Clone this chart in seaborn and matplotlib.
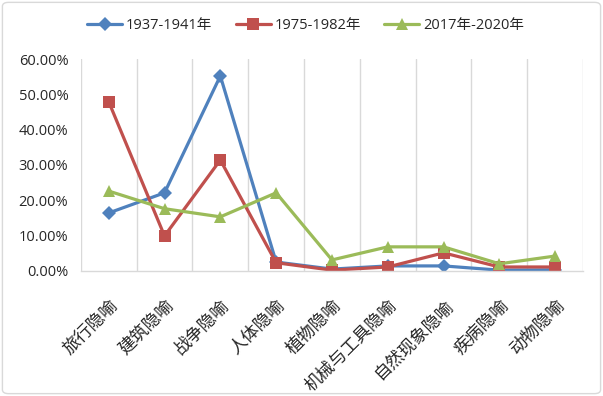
import numpy as np
import pandas as pd
import seaborn as sns
import matplotlib.pyplot as plt
from matplotlib.patches import FancyBboxPatch
from matplotlib.ticker import FixedLocator, PercentFormatter

categories = ['旅行隐喻', '建筑隐喻', '战争隐喻', '人体隐喻', '植物隐喻',
              '机械与工具隐喻', '自然现象隐喻', '疾病隐喻', '动物隐喻']
series_names = ['1937-1941年', '1975-1982年', '2017年-2020年']
s1937 = [16.4, 22.1, 55.2, 2.5, 0.5, 1.4, 1.4, 0.2, 0.3]
s1975 = [47.9, 9.9, 31.4, 2.3, 0.2, 1.1, 5.1, 1.1, 1.1]
s2017 = [22.6, 17.6, 15.3, 22.1, 3.1, 6.8, 6.8, 2.0, 4.2]

rows = []
for name, vals in zip(series_names, [s1937, s1975, s2017]):
    for i, v in enumerate(vals):
        rows.append({'pos': i, 'series': name, 'value': v / 100})
df = pd.DataFrame(rows)

sns.set_theme(style='white')
plt.rcParams['font.family'] = ['Open Sans', 'Noto Sans CJK SC', 'DejaVu Sans']

fig = plt.figure(figsize=(6.03, 3.96), dpi=100)
ax = fig.add_axes([0.134, 0.316, 0.833, 0.535])

palette = {series_names[0]: '#4F81BD', series_names[1]: '#C0504D', series_names[2]: '#9BBB59'}
markers = {series_names[0]: 'D', series_names[1]: 's', series_names[2]: '^'}
sizes = {series_names[0]: 7, series_names[1]: 8, series_names[2]: 8.5}

for name in series_names:
    d = df[df['series'] == name]
    sns.lineplot(data=d, x='pos', y='value', ax=ax, color=palette[name],
                 marker=markers[name], markersize=sizes[name], markeredgewidth=0,
                 linewidth=2.3, label=name, sort=False)

ax.set_xlim(-0.5, len(categories) - 0.5)
ax.set_ylim(0, 0.6)
ax.set_yticks(np.arange(0, 0.61, 0.1))
ax.yaxis.set_major_formatter(PercentFormatter(1.0, decimals=2))
ax.set_xticks(range(len(categories)))
ax.set_xticklabels(categories, rotation=45, ha='right', rotation_mode='anchor',
                   fontsize=12.5, family=['Noto Sans CJK SC'])
ax.xaxis.set_minor_locator(FixedLocator(np.arange(-0.5, len(categories), 1)))
ax.grid(which='minor', axis='x', color='#D9D9D9', linewidth=1)
ax.grid(which='major', axis='both', visible=False)
ax.tick_params(axis='both', which='both', length=0)
ax.tick_params(axis='y', labelsize=10.5, pad=9)
ax.tick_params(axis='x', pad=18)
ax.set_xlabel('')
ax.set_ylabel('')
for s in ['left', 'top', 'right']:
    ax.spines[s].set_visible(False)
ax.spines['bottom'].set_color('#D9D9D9')
ax.spines['bottom'].set_linewidth(1)

ax.legend(loc='center', bbox_to_anchor=(0.507, 0.935), bbox_transform=fig.transFigure,
          ncol=3, frameon=False, fontsize=10.5, handlelength=2.4, columnspacing=1.6,
          handletextpad=0.25)

fig.patches.append(FancyBboxPatch((0.004, 0.006), 0.992, 0.988, boxstyle='round,pad=0,rounding_size=0.01',
                                  transform=fig.transFigure, facecolor='none',
                                  edgecolor='#D9D9D9', linewidth=1))

fig.savefig('out.png', dpi=100)
